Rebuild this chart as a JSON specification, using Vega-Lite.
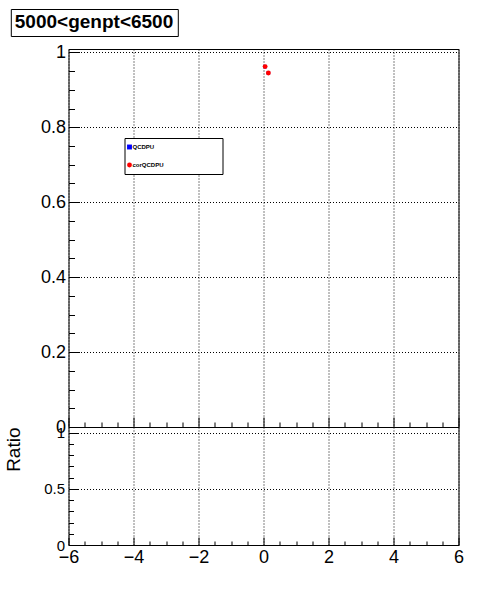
{
  "$schema": "https://vega.github.io/schema/vega-lite/v6.json",
  "background": "white",
  "padding": {"left": 3.5, "top": 8, "right": 0, "bottom": 0},
  "spacing": 0,
  "bounds": "flush",
  "config": {
    "font": "Liberation Sans",
    "view": {"stroke": "black", "strokeWidth": 1},
    "axis": {
      "domain": false,
      "labelColor": "black",
      "tickColor": "black",
      "tickWidth": 1,
      "gridColor": "black",
      "gridOpacity": 1,
      "gridDash": [1, 2],
      "gridWidth": 1,
      "labelFont": "Liberation Sans",
      "titleFont": "Liberation Sans",
      "titleColor": "black",
      "labelOverlap": false,
      "labelFlush": false
    }
  },
  "datasets": {
    "pts": [
      {"x": 0.05, "y": 0.962, "series": "QCDPU"},
      {"x": 0.15, "y": 0.945, "series": "QCDPU"},
      {"x": 0.05, "y": 0.962, "series": "corQCDPU"},
      {"x": 0.15, "y": 0.945, "series": "corQCDPU"}
    ]
  },
  "vconcat": [
    {
      "width": 390,
      "height": 378,
      "data": {"name": "pts"},
      "layer": [
        {
          "transform": [{"filter": "datum.series === 'QCDPU'"}],
          "mark": {"type": "point", "filled": true, "size": 12, "opacity": 1},
          "encoding": {
            "x": {"field": "x", "type": "quantitative", "scale": {"domain": [-6, 6], "nice": false, "zero": false},
                  "axis": {"orient": "bottom", "values": [-6, -4, -2, 0, 2, 4, 6], "labels": false, "ticks": false, "grid": true, "title": null}},
            "y": {"field": "y", "type": "quantitative", "scale": {"domain": [0, 1.009], "nice": false},
                  "axis": {"orient": "left", "values": [0, 0.2, 0.4, 0.6, 0.8, 1], "format": "~g", "labelFontSize": 18, "labelPadding": 3, "ticks": false, "grid": true, "title": null}},
            "color": {"field": "series", "type": "nominal",
                      "scale": {"domain": ["QCDPU", "corQCDPU"], "range": ["#0000ff", "#ff0000"]},
                      "legend": {
                        "title": null, "orient": "none", "legendX": 56, "legendY": 89,
                        "strokeColor": "black", "fillColor": "white", "padding": 6,
                        "labelFontSize": 6, "labelFontWeight": "bold", "labelFont": "Liberation Sans", "labelColor": "black",
                        "labelLimit": 400, "labelOffset": 0, "rowPadding": 12,
                        "symbolSize": 24, "symbolStrokeWidth": 0, "symbolOffset": -4,
                        "labelExpr": "datum.label + '\u2800\u2800\u2800\u2800\u2800\u2800\u2800\u2800\u2800\u2800\u2800\u2800\u2800'"
                      }},
            "shape": {"field": "series", "type": "nominal",
                      "scale": {"domain": ["QCDPU", "corQCDPU"], "range": ["square", "circle"]}}
          }
        },
        {
          "transform": [{"filter": "datum.series === 'corQCDPU'"}],
          "mark": {"type": "point", "filled": true, "size": 24, "opacity": 1},
          "encoding": {
            "x": {"field": "x", "type": "quantitative", "axis": null},
            "y": {"field": "y", "type": "quantitative", "axis": null},
            "color": {"field": "series", "type": "nominal"},
            "shape": {"field": "series", "type": "nominal"}
          }
        },
        {
          "mark": {"type": "point", "opacity": 0},
          "encoding": {
            "x": {"field": "x", "type": "quantitative",
                  "axis": {"orient": "bottom", "values": [-6, -4, -2, 0, 2, 4, 6], "labels": false, "grid": false, "tickSize": -10, "title": null}},
            "y": {"field": "y", "type": "quantitative",
                  "axis": {"orient": "left", "values": [0, 0.2, 0.4, 0.6, 0.8, 1], "labels": false, "grid": false, "tickSize": -11, "title": null}}
          }
        },
        {
          "mark": {"type": "point", "opacity": 0},
          "encoding": {
            "x": {"field": "x", "type": "quantitative",
                  "axis": {"orient": "bottom", "values": [-5.5, -5, -4.5, -3.5, -3, -2.5, -1.5, -1, -0.5, 0.5, 1, 1.5, 2.5, 3, 3.5, 4.5, 5, 5.5], "labels": false, "grid": false, "tickSize": -5, "title": null}},
            "y": {"field": "y", "type": "quantitative",
                  "axis": {"orient": "left", "values": [0.05, 0.1, 0.15, 0.25, 0.3, 0.35, 0.45, 0.5, 0.55, 0.65, 0.7, 0.75, 0.85, 0.9, 0.95], "labels": false, "grid": false, "tickSize": -6, "title": null}}
          }
        },
        {
          "mark": {"type": "point", "opacity": 0},
          "encoding": {
            "x": {"field": "x", "type": "quantitative", "axis": null},
            "y": {"field": "y", "type": "quantitative", "axis": null},
            "size": {"datum": 1, "type": "quantitative",
                     "legend": {
                       "title": "5000<genpt<6500", "values": [], "orient": "none",
                       "legendX": -57.7, "legendY": -40,
                       "strokeColor": "black", "fillColor": "white", "padding": 4,
                       "titleFontSize": 19, "titleFontWeight": "bold", "titleFont": "Liberation Sans",
                       "titleColor": "black", "titleLimit": 500, "titlePadding": 0
                     }}
          }
        }
      ],
      "resolve": {"axis": {"x": "independent", "y": "independent"}}
    },
    {
      "width": 390,
      "height": 118,
      "data": {"name": "pts"},
      "layer": [
        {
          "mark": {"type": "point", "opacity": 0},
          "encoding": {
            "x": {"field": "x", "type": "quantitative", "scale": {"domain": [-6, 6], "nice": false, "zero": false},
                  "axis": {"orient": "bottom", "values": [-6, -4, -2, 0, 2, 4, 6], "format": "~g", "labelFontSize": 18, "labelPadding": 3, "ticks": false, "grid": true, "title": null}},
            "y": {"field": "y", "type": "quantitative", "scale": {"domain": [0, 1.05], "nice": false},
                  "axis": {"orient": "left", "values": [0, 0.5, 1], "format": "~g", "labelFontSize": 15, "labelPadding": 4, "ticks": false, "grid": true,
                           "title": "Ratio", "titleFontSize": 19, "titleFontWeight": "normal", "titleAnchor": "end", "titlePadding": 20}}
          }
        },
        {
          "mark": {"type": "point", "opacity": 0},
          "encoding": {
            "x": {"field": "x", "type": "quantitative",
                  "axis": {"orient": "bottom", "values": [-6, -4, -2, 0, 2, 4, 6], "labels": false, "grid": false, "tickSize": -8, "title": null}},
            "y": {"field": "y", "type": "quantitative",
                  "axis": {"orient": "left", "values": [0, 0.5, 1], "labels": false, "grid": false, "tickSize": -10, "title": null}}
          }
        },
        {
          "mark": {"type": "point", "opacity": 0},
          "encoding": {
            "x": {"field": "x", "type": "quantitative",
                  "axis": {"orient": "bottom", "values": [-5.5, -5, -4.5, -3.5, -3, -2.5, -1.5, -1, -0.5, 0.5, 1, 1.5, 2.5, 3, 3.5, 4.5, 5, 5.5], "labels": false, "grid": false, "tickSize": -4, "title": null}},
            "y": {"field": "y", "type": "quantitative",
                  "axis": {"orient": "left", "values": [0.1, 0.2, 0.3, 0.4, 0.6, 0.7, 0.8, 0.9], "labels": false, "grid": false, "tickSize": -5, "title": null}}
          }
        }
      ],
      "resolve": {"axis": {"x": "independent", "y": "independent"}}
    }
  ]
}
